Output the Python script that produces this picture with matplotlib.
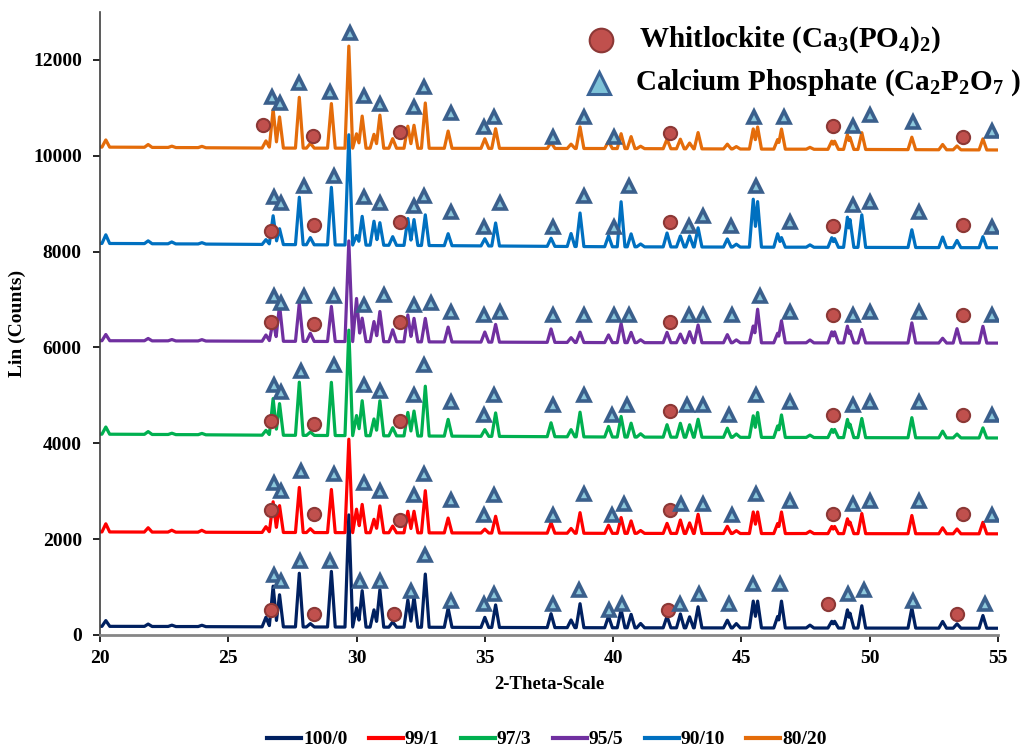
import numpy as np
import matplotlib
matplotlib.use('Agg')
import matplotlib.pyplot as plt
from matplotlib.lines import Line2D

plt.rcParams['font.family'] = ['Liberation Serif', 'DejaVu Serif']
plt.rcParams['font.weight'] = 'bold'
plt.rcParams['mathtext.fontset'] = 'custom'
plt.rcParams['mathtext.rm'] = 'Liberation Serif:bold'
plt.rcParams['mathtext.it'] = 'Liberation Serif:bold:italic'
plt.rcParams['mathtext.bf'] = 'Liberation Serif:bold'

# ---------------- data ----------------
labels = ['100/0', '99/1', '97/3', '95/5', '90/10', '80/20']
colors = ['#002060', '#FF0000', '#00B050', '#7030A0', '#0070C0', '#E46C0A']

# peak positions (2-theta) shared by all patterns
peak_pos = [20.23, 21.88, 22.8, 23.97, 26.47, 26.75, 27.00, 27.77, 28.20, 29.02,
            29.70, 30.00, 30.22, 30.68, 30.91, 31.41, 32.00, 32.24, 32.68, 33.57,
            35.00, 35.42, 37.58, 38.36, 38.71, 39.82, 40.31, 40.70, 41.07, 42.10,
            42.62, 42.98, 43.31, 44.45, 44.80, 45.46, 45.63, 46.41, 46.56, 47.67,
            48.52, 48.63, 49.13, 49.23, 49.69, 51.64, 52.84, 53.40, 54.41]

# peak heights above background, one list per pattern
h_100_0 = [120, 50, 30, 30, 200, 850, 670, 1120, 70, 1160, 2340, 400, 760, 360, 780, 110, 570, 640, 1110, 400,
           210, 470, 290, 160, 500, 240, 380, 280, 90, 240, 290, 230, 440, 160, 90, 560, 560, 240, 560, 60,
           140, 140, 380, 310, 465, 420, 140, 90, 265]
h_99_1 = [170, 90, 40, 40, 120, 640, 560, 940, 80, 900, 1950, 490, 590, 280, 560, 140, 450, 450, 880, 310,
          80, 350, 220, 100, 430, 170, 330, 260, 60, 210, 280, 220, 400, 150, 60, 450, 450, 210, 450, 50,
          150, 150, 310, 240, 420, 380, 125, 100, 240]
h_97_3 = [150, 60, 30, 30, 100, 765, 660, 1110, 70, 1110, 2200, 420, 730, 350, 730, 170, 490, 520, 1040, 350,
          140, 490, 290, 150, 515, 220, 430, 290, 70, 260, 290, 260, 375, 190, 70, 450, 520, 240, 470, 50,
          170, 170, 380, 280, 400, 420, 140, 80, 210]
h_95_5 = [130, 50, 30, 30, 130, 420, 760, 800, 170, 730, 2100, 900, 490, 420, 630, 250, 560, 490, 490, 310,
          210, 370, 280, 100, 215, 160, 400, 215, 60, 215, 180, 230, 370, 170, 60, 350, 700, 200, 460, 60,
          230, 230, 350, 250, 280, 420, 100, 300, 350]
h_90_10 = [180, 60, 40, 30, 100, 600, 330, 990, 150, 1200, 2300, 200, 600, 500, 470, 180, 560, 540, 640, 250,
           150, 480, 170, 270, 700, 230, 940, 270, 60, 290, 230, 230, 400, 170, 60, 1000, 950, 280, 200, 50,
           200, 180, 630, 580, 680, 370, 220, 150, 230]
h_80_20 = [150, 60, 30, 30, 150, 810, 650, 1060, 100, 930, 2130, 300, 670, 290, 690, 200, 460, 480, 945, 360,
           200, 410, 120, 90, 450, 150, 310, 250, 50, 200, 200, 120, 340, 100, 50, 420, 460, 200, 420, 40,
           170, 170, 310, 250, 350, 260, 110, 80, 230]
heights = [h_100_0, h_99_1, h_97_3, h_95_5, h_90_10, h_80_20]

# background level of each pattern at a few 2-theta points
bg_x = [20, 26, 40, 55]
bg_100_0 = [180, 170, 150, 140]
bg_99_1 = [2150, 2140, 2120, 2110]
bg_97_3 = [4190, 4170, 4130, 4110]
bg_95_5 = [6140, 6130, 6100, 6090]
bg_90_10 = [8170, 8150, 8100, 8080]
bg_80_20 = [10180, 10160, 10150, 10120]
backgrounds = [bg_100_0, bg_99_1, bg_97_3, bg_95_5, bg_90_10, bg_80_20]

# phase markers (2-theta, counts)
circ_100_0 = [(26.65, 522), (28.33, 438), (31.47, 438), (42.12, 522), (48.38, 647), (53.4, 438)]
tri_100_0 = [(26.78, 1252), (27.04, 1134), (27.81, 1551), (28.98, 1551), (30.13, 1134), (30.91, 1134),
             (32.13, 925), (32.65, 1670), (33.69, 716), (34.95, 647), (35.35, 849), (37.65, 647),
             (38.67, 939), (39.84, 522), (40.36, 647), (42.6, 647), (43.34, 856), (44.51, 647),
             (45.45, 1064), (46.49, 1064), (49.16, 856), (49.78, 939), (51.7, 716), (54.51, 647)]
circ_99_1 = [(26.65, 2608), (28.35, 2518), (31.70, 2400), (42.21, 2608), (48.55, 2518), (53.63, 2518)]
tri_99_1 = [(26.78, 3165), (27.04, 3012), (27.82, 3422), (29.13, 3353), (30.30, 3165), (30.91, 3012),
            (32.24, 2922), (32.63, 3353), (33.68, 2817), (34.98, 2504), (35.35, 2922), (37.65, 2504),
            (38.87, 2936), (39.97, 2504), (40.43, 2734), (42.65, 2734), (43.49, 2734), (44.64, 2504),
            (45.58, 2936), (46.88, 2796), (49.33, 2734), (50.01, 2796), (51.9, 2796), (54.77, 2504)]
circ_97_3 = [(26.65, 4466), (28.35, 4397), (31.70, 4466), (42.21, 4675), (48.55, 4591), (53.63, 4591)]
tri_97_3 = [(26.78, 5217), (27.04, 5078), (27.82, 5509), (29.13, 5634), (30.30, 5217), (30.91, 5092),
            (32.24, 5008), (32.63, 5634), (33.68, 4869), (34.98, 4591), (35.35, 5008), (37.65, 4800),
            (38.87, 5008), (39.97, 4591), (40.53, 4800), (42.87, 4800), (43.52, 4800), (44.5, 4591),
            (45.58, 5008), (46.88, 4869), (49.33, 4800), (50.01, 4869), (51.9, 4869), (54.77, 4591)]
circ_95_5 = [(26.65, 6538), (28.35, 6484), (31.70, 6538), (42.21, 6538), (48.55, 6678), (53.63, 6678)]
tri_95_5 = [(26.78, 7074), (27.04, 6935), (27.95, 7074), (29.13, 7074), (30.30, 6886), (31.09, 7095),
            (32.24, 6886), (32.90, 6935), (33.68, 6747), (34.98, 6678), (35.58, 6747), (37.65, 6678),
            (38.87, 6678), (40.04, 6678), (40.6, 6678), (42.94, 6678), (43.52, 6678), (44.64, 6678),
            (45.73, 7074), (46.88, 6747), (49.33, 6678), (50.01, 6747), (51.9, 6747), (54.77, 6678)]
circ_90_10 = [(26.65, 8431), (28.35, 8556), (31.70, 8625), (42.21, 8625), (48.58, 8541), (53.63, 8556)]
tri_90_10 = [(26.78, 9146), (27.04, 9008), (27.95, 9376), (29.13, 9579), (30.30, 9146), (30.91, 9021),
             (32.24, 8953), (32.63, 9161), (33.68, 8821), (34.98, 8521), (35.58, 9021), (37.65, 8521),
             (38.87, 9161), (40.04, 8521), (40.6, 9376), (42.94, 8535), (43.52, 8744), (44.6, 8535),
             (45.58, 9376), (46.88, 8625), (49.33, 8973), (50.01, 9042), (51.9, 8834), (54.77, 8521)]
circ_80_20 = [(26.36, 10643), (28.32, 10413), (31.70, 10490), (42.21, 10482), (48.58, 10622), (53.63, 10398)]
tri_80_20 = [(26.71, 11227), (27.02, 11102), (27.77, 11519), (28.98, 11331), (29.76, 12563), (30.31, 11247),
             (30.91, 11075), (32.24, 11025), (32.63, 11442), (33.68, 10887), (34.98, 10607), (35.35, 10803),
             (37.65, 10398), (38.87, 10816), (40.04, 10398), (45.5, 10803), (46.65, 10803), (49.33, 10622),
             (50.01, 10851), (51.68, 10712), (54.77, 10517)]
circles = [circ_100_0, circ_99_1, circ_97_3, circ_95_5, circ_90_10, circ_80_20]
triangles = [tri_100_0, tri_99_1, tri_97_3, tri_95_5, tri_90_10, tri_80_20]

# ---------------- drawing ----------------
fig = plt.figure(figsize=(10.30, 7.47), dpi=100)
ax = fig.add_axes([0.097, 0.150, 0.872, 0.834])

tt = np.linspace(20, 55, 7001)
half_w = 0.15  # peak half base width (style)
pp = np.array(peak_pos)

for hs, bg, col, lab in zip(heights, backgrounds, colors, labels):
    hs = np.array(hs, dtype=float)
    prof = np.clip(1 - np.abs(tt[:, None] - pp[None, :]) / half_w, 0, None) * hs[None, :]
    y = np.interp(tt, bg_x, bg) + prof.max(axis=1)
    ax.plot(tt, y, color=col, lw=2.3, label=lab, solid_joinstyle='round', zorder=2)

circ_face, circ_edge = '#C0504D', '#8C3836'
tri_face, tri_edge = '#8DC8DC', '#3A5F8C'
for cs, ts in zip(circles, triangles):
    cx, cy = zip(*cs)
    ax.plot(cx, cy, 'o', ms=9.5, mfc=circ_face, mec=circ_edge, mew=1.5, ls='none', zorder=4)
    tx, ty = zip(*ts)
    ax.plot(tx, ty, '^', ms=8.5, mfc=tri_face, mec=tri_edge, mew=2.6, ls='none', zorder=4)

# phase key at top right
ax.plot([39.53], [12420], 'o', ms=17, mfc=circ_face, mec=circ_edge, mew=1.5, clip_on=False, zorder=5)
ax.plot([39.45], [11520], '^', ms=16, mfc='#7EC3D8', mec='#3A6496', mew=2.2, clip_on=False, zorder=5)
ax.text(41.0, 12420, r'Whitlockite (Ca$_3$(PO$_4$)$_2$)', fontsize=21, fontweight='bold',
        va='center', ha='left')
ax.text(40.85, 11520, r'Calcium Phosphate (Ca$_2$P$_2$O$_7$ )', fontsize=21, fontweight='bold',
        va='center', ha='left')

ax.set_xlim(20, 55)
ax.set_ylim(0, 13000)
ax.set_xticks(np.arange(20, 56, 5))
ax.set_yticks(np.arange(0, 12001, 2000))
ax.tick_params(axis='both', labelsize=14, direction='out', length=5, width=1.2)
ax.tick_params(axis='y', pad=8)
ax.tick_params(axis='x', pad=6)
for lbl in ax.get_xticklabels() + ax.get_yticklabels():
    lbl.set_fontweight('bold')

ax.spines['top'].set_visible(False)
ax.spines['right'].set_visible(False)
ax.spines['left'].set_color('#404040')
ax.spines['left'].set_linewidth(1.2)
ax.spines['bottom'].set_color('#868686')
ax.spines['bottom'].set_linewidth(2.0)

ax.set_xlabel('2-Theta-Scale', fontsize=13.5, fontweight='bold', labelpad=6)
ax.set_ylabel('Lin (Counts)', fontsize=14, fontweight='bold', labelpad=5)

handles = [Line2D([0], [0], color=c, lw=3) for c in colors]
fig.legend(handles, labels, loc='center', bbox_to_anchor=(0.531, 0.010), ncol=6,
           frameon=False, fontsize=14, handlelength=1.75, handletextpad=0.1, columnspacing=1.1,
           borderpad=0.1)

fig.savefig('out.png', dpi=100)
